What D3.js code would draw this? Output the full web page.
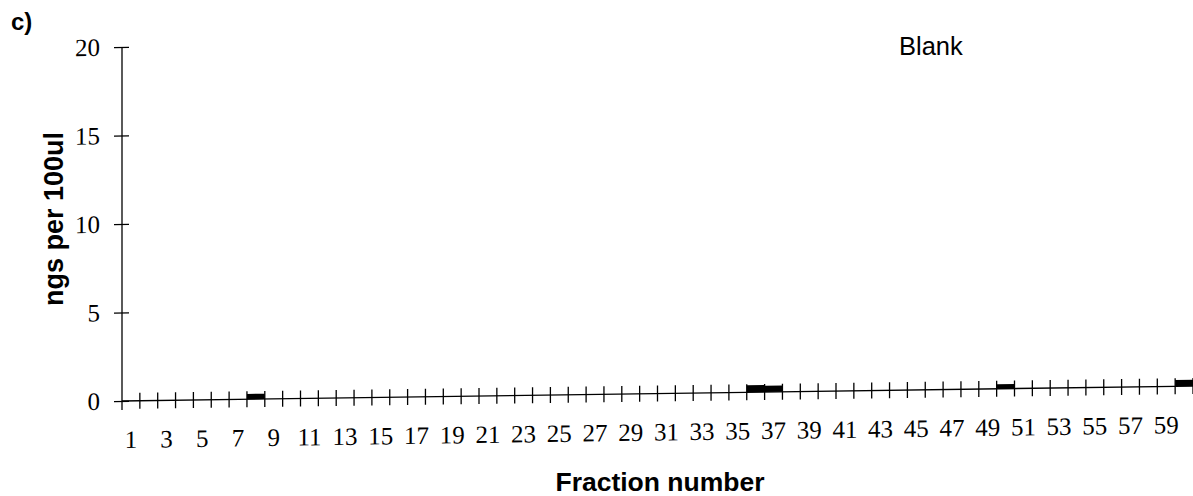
<!DOCTYPE html>
<html>
<head>
<meta charset="utf-8">
<script src="https://cdn.jsdelivr.net/npm/d3@7"></script>
<style>
  body { margin: 0; background: #fff; }
  svg { display: block; }
</style>
</head>
<body>
<div id="chart"></div>
<script>
// fraction numbers on the x axis
const fractions = d3.range(1, 61);

// ngs per 100ul, one per fraction (mostly nothing)
const amounts = [
  0, 0, 0, 0, 0, 0, 0, 0.3, 0, 0,
  0, 0, 0, 0, 0, 0, 0, 0, 0, 0,
  0, 0, 0, 0, 0, 0, 0, 0, 0, 0,
  0, 0, 0, 0, 0, 0.4, 0.35, 0, 0, 0,
  0, 0, 0, 0, 0, 0, 0, 0, 0, 0.25,
  0, 0, 0, 0, 0, 0, 0, 0, 0, 0.35
];

const yTicks = [0, 5, 10, 15, 20];

const width = 1193, height = 496;
const plotLeft = 122, plotRight = 1193, plotTop = 47, plotBottom = 401;

const svg = d3.select("#chart").append("svg")
  .attr("width", width)
  .attr("height", height);

const x = d3.scaleBand()
  .domain(fractions)
  .range([plotLeft, plotRight])
  .padding(0);

const y = d3.scaleLinear()
  .domain([0, 20])
  .range([plotBottom, plotTop]);

// scanned page is a little skewed, so tilt the plot a bit
const plot = svg.append("g")
  .attr("transform", `translate(${plotLeft},0) skewY(-0.8) translate(${-plotLeft},0)`);

// bars
plot.append("g")
  .selectAll("rect")
  .data(fractions)
  .join("rect")
    .attr("x", d => x(d))
    .attr("width", x.bandwidth())
    .attr("y", (d, i) => y(amounts[i]))
    .attr("height", (d, i) => y(0) - y(amounts[i]))
    .attr("fill", "#000");

// y axis
const yAxis = plot.append("g")
  .attr("transform", `translate(${plotLeft},0)`)
  .call(d3.axisLeft(y).tickValues(yTicks).tickSize(7).tickPadding(15));
yAxis.select(".domain").attr("d", `M0,${plotTop}V${plotBottom + 9}`).attr("stroke", "#000").attr("stroke-width", 1.3);
yAxis.selectAll(".tick line").attr("x1", -8).attr("x2", 7).attr("stroke-width", 1.3);
yAxis.selectAll(".tick text")
  .attr("font-family", "'Liberation Serif', 'Times New Roman', serif")
  .attr("font-size", 25)
  .attr("fill", "#000");

// x axis line
plot.append("line")
  .attr("x1", plotLeft).attr("x2", plotRight)
  .attr("y1", y(0)).attr("y2", y(0))
  .attr("stroke", "#000").attr("stroke-width", 1.3);

// x ticks sit between the fractions and cross the axis
const bounds = fractions.map(d => x(d)).concat([x(fractions[fractions.length - 1]) + x.bandwidth()]);
plot.append("g")
  .selectAll("line")
  .data(bounds.slice(1))
  .join("line")
    .attr("x1", d => d).attr("x2", d => d)
    .attr("y1", y(0) - 8).attr("y2", y(0) + 8)
    .attr("stroke", "#000").attr("stroke-width", 1.3);

// x labels, every other fraction
plot.append("g")
  .selectAll("text")
  .data(fractions.filter(d => d % 2 === 1))
  .join("text")
    .attr("x", d => x(d) + x.bandwidth() / 2)
    .attr("y", plotBottom + 47)
    .attr("text-anchor", "middle")
    .attr("font-family", "'Liberation Serif', 'Times New Roman', serif")
    .attr("font-size", 25)
    .text(d => d);

// titles
svg.append("text")
  .attr("transform", "translate(63,219) rotate(-90)")
  .attr("text-anchor", "middle")
  .attr("font-family", "'Liberation Sans', Arial, sans-serif")
  .attr("font-weight", "bold")
  .attr("font-size", 27)
  .text("ngs per 100ul");

svg.append("text")
  .attr("x", 660)
  .attr("y", 491)
  .attr("text-anchor", "middle")
  .attr("font-family", "'Liberation Sans', Arial, sans-serif")
  .attr("font-weight", "bold")
  .attr("font-size", 26.5)
  .text("Fraction number");

svg.append("text")
  .attr("x", 899)
  .attr("y", 55)
  .attr("font-family", "'Liberation Sans', Arial, sans-serif")
  .attr("font-size", 25.5)
  .text("Blank");

svg.append("text")
  .attr("x", 11)
  .attr("y", 30)
  .attr("font-family", "'Liberation Sans', Arial, sans-serif")
  .attr("font-weight", "bold")
  .attr("font-size", 24)
  .text("c)");
</script>
</body>
</html>
